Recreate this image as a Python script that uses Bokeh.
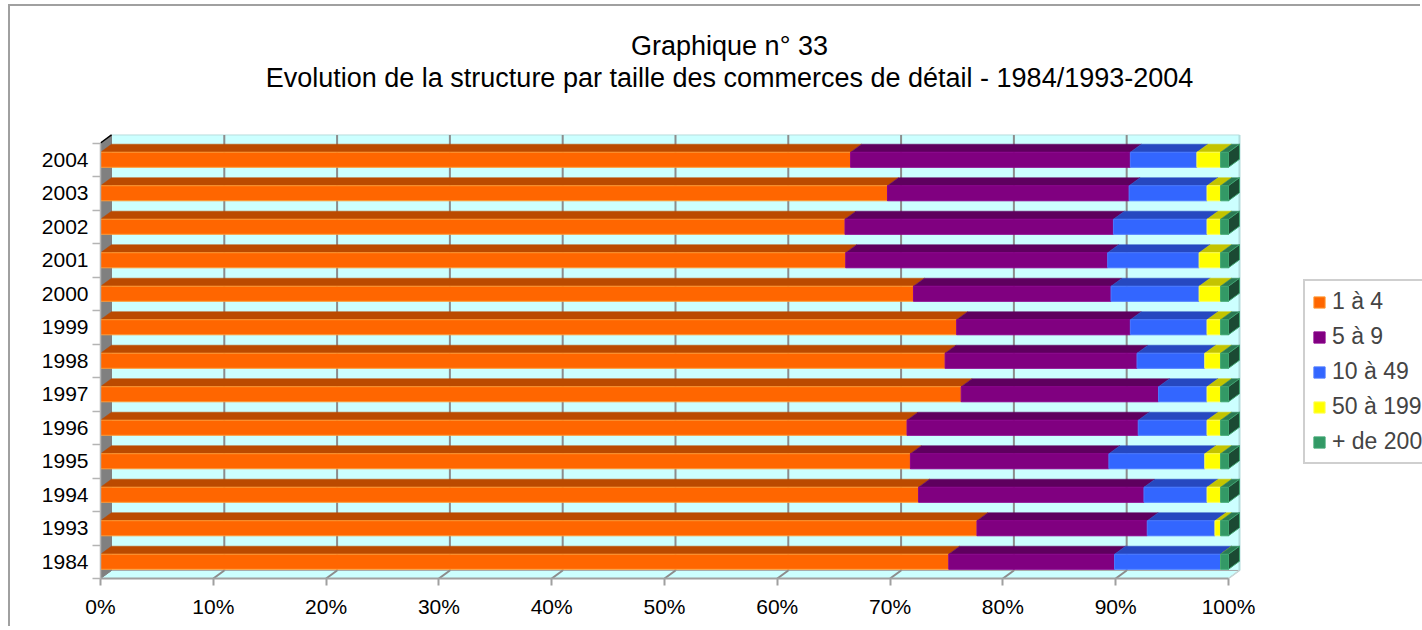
import numpy as np
from bokeh.plotting import figure
from bokeh.models import (Range1d, FixedTicker, NumeralTickFormatter, Legend,
                          LegendItem, Label)
from bokeh.embed import file_html
from bokeh.resources import INLINE

# ---------------- data ----------------
years = ["1984", "1993", "1994", "1995", "1996", "1997", "1998",
         "1999", "2000", "2001", "2002", "2003", "2004"]
s_1_4 = [75.2, 77.7, 72.6, 71.8, 71.5, 76.3, 74.8, 75.9, 72.0, 66.0, 66.0, 69.7, 66.5]
s_5_9 = [14.7, 15.1, 20.0, 17.6, 20.5, 17.5, 17.0, 15.4, 17.5, 23.2, 23.8, 21.4, 24.8]
s_10_49 = [9.4, 6.0, 5.6, 8.5, 6.1, 4.3, 6.0, 6.8, 7.8, 8.1, 8.3, 6.9, 5.9]
s_50_199 = [0.0, 0.5, 1.2, 1.4, 1.2, 1.2, 1.4, 1.2, 1.9, 1.9, 1.2, 1.2, 2.1]
s_200 = [0.7, 0.7, 0.7, 0.7, 0.7, 0.7, 0.7, 0.7, 0.7, 0.7, 0.7, 0.7, 0.7]
series_names = ["1 à 4", "5 à 9", "10 à 49", "50 à 199", "+ de 200"]
x_ticks = [0.0, 0.1, 0.2, 0.3, 0.4, 0.5, 0.6, 0.7, 0.8, 0.9, 1.0]
title_1 = "Graphique n° 33"
title_2 = "Evolution de la structure par taille des commerces de détail - 1984/1993-2004"

# ---------------- styles ----------------
front_col = ["#ff6600", "#800080", "#3366ff", "#ffff00", "#339966"]
edge_col = ["#ff9933", "#8c008c", "#4a78ff", "#ffff55", "#3fa672"]
top_col = ["#bb4a00", "#5e005e", "#2648c0", "#c4c400", "#2a7a52"]
end_col = "#1b4a33"
FONT = "Liberation Sans"

series = [s_1_4, s_5_9, s_10_49, s_50_199, s_200]
vals = np.array(series, dtype=float)
frac = vals / vals.sum(axis=0)
right = np.cumsum(frac, axis=0)
left = right - frac

n = len(years)
DX, DY, H = 0.00975, 0.24, 0.45
yc = np.arange(n) + 0.5

p = figure(width=1412, height=622,
           x_range=Range1d(0, 1.172), y_range=Range1d(0, 17.075),
           output_backend="svg", toolbar_location=None,
           min_border_left=90, min_border_right=0,
           min_border_top=0, min_border_bottom=50,
           background_fill_color="white", border_fill_color="white",
           outline_line_color=None)
p.grid.visible = False

# walls and floor
p.quad(left=[DX], right=[1 + DX], bottom=[DY], top=[n + DY],
       fill_color="#ccffff", line_color="#b8dede", line_width=1)
p.patch([0, 1, 1 + DX, DX], [0, 0, DY, DY], fill_color="#ccffff",
        line_color="#a8a8a8", line_width=1)
p.patch([0, 0, DX, DX], [0, n, n + DY, DY], fill_color="#808080",
        line_color="#808080", line_width=1)
p.line([0, DX], [n, n + DY], line_color="black", line_width=1.5)
p.line([1 + DX, 1 + DX], [DY, n + DY], line_color="#b0dcdc", line_width=2)
p.line([1, 1 + DX], [0, DY], line_color="#c8d8d8", line_width=1.5)

grid_x = [t + DX for t in x_ticks[1:-1]]
p.segment(x0=grid_x, y0=[DY] * len(grid_x), x1=grid_x, y1=[n + DY] * len(grid_x),
          line_color="#8c8c8c", line_width=2)
p.segment(x0=x_ticks[1:-1], y0=[0] * len(grid_x), x1=grid_x, y1=[DY] * len(grid_x),
          line_color="#8c8c8c", line_width=2)

# 3-D stacked bars
renderers = []
for k in range(len(series)):
    l, r = left[k], right[k]
    xs = [[a, b, b + DX, a + DX] for a, b in zip(l, r)]
    ys = [[c + H / 2, c + H / 2, c + H / 2 + DY, c + H / 2 + DY] for c in yc]
    p.patches(xs, ys, fill_color=top_col[k], line_color=top_col[k], line_width=0.5)
    rr = p.quad(left=l, right=r, bottom=yc - H / 2, top=yc + H / 2,
                fill_color=front_col[k], line_color=edge_col[k], line_width=1)
    renderers.append(rr)

r_end = right[-1]
xs = [[b, b, b + DX, b + DX] for b in r_end]
ys = [[c - H / 2, c + H / 2, c + H / 2 + DY, c - H / 2 + DY] for c in yc]
p.patches(xs, ys, fill_color=end_col, line_color=edge_col[-1], line_width=1)

# axes
p.xaxis.ticker = FixedTicker(ticks=x_ticks)
p.xaxis.bounds = (0, 1)
p.xaxis.formatter = NumeralTickFormatter(format="0%")
p.xaxis.axis_line_color = "#a0a0a0"
p.xaxis.axis_line_width = 2
p.xaxis.major_tick_line_color = "#a0a0a0"
p.xaxis.major_tick_line_width = 2
p.xaxis.major_tick_in = 0
p.xaxis.major_tick_out = 7
p.xaxis.minor_tick_line_color = None
p.xaxis.major_label_standoff = 9
p.xaxis.major_label_text_font = FONT
p.xaxis.major_label_text_font_size = "21px"
p.xaxis.major_label_text_color = "black"

p.yaxis.ticker = FixedTicker(ticks=[float(c) for c in yc],
                             minor_ticks=[float(i) for i in range(n + 1)])
p.yaxis.bounds = (0, n)
p.yaxis.major_label_overrides = {float(c): y for c, y in zip(yc, years)}
p.yaxis.axis_line_color = "#b4b4b4"
p.yaxis.axis_line_width = 1.5
p.yaxis.major_tick_line_color = None
p.yaxis.major_tick_in = 0
p.yaxis.major_tick_out = 0
p.yaxis.minor_tick_line_color = "#b4b4b4"
p.yaxis.minor_tick_line_width = 1.5
p.yaxis.minor_tick_in = 0
p.yaxis.minor_tick_out = 8
p.yaxis.major_label_standoff = 4
p.yaxis.major_label_text_font = FONT
p.yaxis.major_label_text_font_size = "21px"
p.yaxis.major_label_text_color = "black"

# titles (screen units relative to the plot frame's bottom-left corner)
for txt, yy in ((title_1, 533), (title_2, 501)):
    p.add_layout(Label(x=629, y=yy, x_units="screen", y_units="screen", text=txt,
                       text_align="center", text_baseline="middle",
                       text_font=FONT, text_font_size="27px", text_color="black"))

legend = Legend(items=[LegendItem(label=nm, renderers=[rr])
                       for nm, rr in zip(series_names, renderers)],
                location=(1203, 114), orientation="vertical",
                label_text_font=FONT, label_text_font_size="23px",
                glyph_width=14, glyph_height=14, label_standoff=6,
                padding=7, spacing=8, margin=0,
                border_line_color="#a0a0a0", border_line_width=2,
                background_fill_color="white", background_fill_alpha=1.0)
p.add_layout(legend)

p.styles = {"border-left": "2px solid #a0a0a0", "border-top": "2px solid #a0a0a0",
            "margin-left": "8px", "margin-top": "4px"}

open("out.html", "w").write(file_html(p, INLINE))
